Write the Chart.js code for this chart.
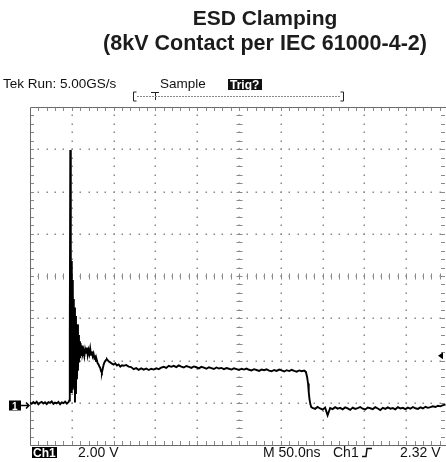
<!DOCTYPE html>
<html lang="en">
  <head>
    <meta charset="UTF-8" />
    <title>ESD Clamping</title>
    <style>
    body { margin: 0; background-color: #ffffff; }
    </style>
    <script src="https://cdn.jsdelivr.net/npm/chart.js@4.4.0/dist/chart.umd.min.js"></script>
  </head>
  <body>
    <canvas id="chart" width="446" height="462"></canvas>

    <script>
      // scope settings
      const voltsPerDiv = 2;
      const nsPerDiv = 50;
      const groundOffsetDiv = 0.955;   // ground marker height above bottom of screen
      const visibleNs = 497.6;          // right edge of screen is just cut off
      const triggerLevel = 2.32;

      // Ch1 trace, time in ns from left edge of the screen
      const timeNs = [
        0, 2, 4, 6, 8, 10, 12, 14, 16, 18, 20, 22, 24, 26, 28, 30, 32, 34, 36, 38, 40, 42, 44, 46,
        47.0, 47.6, 48.2, 48.6, 49.0, 49.4, 49.8, 50.2, 50.6, 51.0, 51.4, 51.8, 52.2, 52.6, 53.2, 53.8,
        54.4, 55.0, 55.6, 56.2, 56.8, 57.4, 58.0, 58.6, 59.2, 59.8, 60.6, 61.4, 62.2, 63.0,
        64, 65, 66, 67, 68, 69, 70, 71, 72, 73, 74, 75, 76, 77, 78, 79, 80, 81, 82, 83, 84, 85, 86,
        87, 88, 89, 90, 91, 92, 94, 96, 98, 100, 102, 104, 106, 108, 110, 112, 115, 118, 121, 124,
        127, 130, 133, 136, 139, 142, 145, 148, 151, 154, 157, 160, 163, 166, 169,
        172, 175, 178, 181, 184, 187, 190, 193, 196, 199, 202, 205, 208, 211, 214, 217, 220, 223,
        226, 229, 232, 235, 238, 241, 244, 247, 250, 253, 256, 259, 262, 265, 268, 271, 274, 277,
        280, 283, 286, 289, 292, 295, 298, 301, 304, 307, 310, 313, 316, 319, 322, 325, 328, 330,
        331.5, 332.6, 333.4, 334.2, 335.2, 336.4,
        338, 341, 344, 347, 350, 353, 356, 359, 362, 365, 368, 371, 374, 377, 380, 383, 386, 389,
        392, 395, 398, 401, 404, 407, 410, 413, 416, 419, 422, 425, 428, 431, 434, 437, 440, 443,
        446, 449, 452, 455, 458, 461, 464, 467, 470, 473, 476, 479, 482, 485, 488, 491, 494, 497
      ];
      const voltage = [
        0.10, 0.04, 0.12, 0.06, 0.14, 0.02, 0.09, 0.13, 0.05, 0.11, 0.03, 0.12, 0.08, 0.15, 0.04, 0.10,
        0.06, 0.13, 0.02, 0.11, 0.07, 0.14, 0.05, 0.12,
        0.20, 3.50, 12.05, 2.80, 7.30, 0.60, 6.80, 1.00, 5.90, 0.70, 5.60, 1.20, 5.00, 0.80, 4.60, 0.10,
        4.20, 0.50, 3.60, 1.20, 3.80, 1.60, 3.30, 2.00, 3.00, 2.20, 2.90, 2.30, 2.80, 2.40,
        2.55, 2.30, 2.62, 2.45, 2.70, 2.35, 2.58, 2.40, 2.66, 2.36, 2.52, 2.30, 2.42, 2.20, 2.26, 2.06,
        2.10, 1.95, 1.90, 1.80, 1.74, 1.58, 1.52,
        1.70, 1.88, 2.00, 2.06, 2.12, 2.15, 2.05, 2.00, 1.94, 1.90, 1.96, 1.85, 1.90, 1.80, 1.86, 1.84,
        1.88, 1.80, 1.78, 1.68,
        1.73, 1.65, 1.72, 1.66, 1.71, 1.64, 1.70, 1.66, 1.72, 1.68, 1.75, 1.79, 1.74, 1.84, 1.79,
        1.84, 1.78, 1.86, 1.80, 1.76, 1.83, 1.79, 1.74, 1.81, 1.77, 1.72, 1.79, 1.75, 1.70, 1.77, 1.73,
        1.69, 1.76, 1.71, 1.74, 1.68, 1.73, 1.70, 1.66, 1.72, 1.68, 1.64, 1.70, 1.66, 1.71, 1.65, 1.62,
        1.68, 1.64, 1.60, 1.66, 1.63, 1.67, 1.61, 1.58, 1.64, 1.60, 1.66, 1.62, 1.57, 1.63, 1.59, 1.65,
        1.60, 1.56, 1.62, 1.58, 1.61, 1.55,
        1.30, 1.00, 0.60, 0.30, 0.05, -0.12,
        -0.15, -0.20, -0.11, -0.18, -0.24, -0.14, -0.50, -0.16, -0.21, -0.12,
        -0.19, -0.15, -0.22, -0.13, -0.18, -0.25, -0.14, -0.20, -0.16, -0.11,
        -0.19, -0.23, -0.14, -0.17, -0.21, -0.12, -0.18, -0.26, -0.15, -0.20,
        -0.13, -0.19, -0.16, -0.22, -0.12, -0.18, -0.15, -0.21, -0.14, -0.19,
        -0.11, -0.17, -0.20, -0.13, -0.18, -0.10, -0.15, -0.12, -0.08, -0.11,
        -0.05, -0.08, -0.02, 0.00
      ];

      const titleLines = ['ESD Clamping', '(8kV Contact per IEC 61000-4-2)'];
      const headerLabels = ['Tek Run: 5.00GS/s', 'Sample', 'Trig?'];
      const footerLabels = ['Ch1', '2.00 V', 'M 50.0ns', 'Ch1', '2.32 V'];

      const yMin = -groundOffsetDiv * voltsPerDiv;
      const yMax = yMin + 8 * voltsPerDiv;

      const points = timeNs.map((t, i) => ({x: t, y: voltage[i]}));

      // scope graticule: dotted divisions, ticked centre cross and border
      const graticule = {
        id: 'graticule',
        beforeDatasetsDraw(chart) {
          const {ctx, chartArea: a, scales: {x, y}} = chart;
          ctx.save();
          ctx.fillStyle = '#8a8a8a';
          const xStep = nsPerDiv / 5;
          const yStep = voltsPerDiv / 5;

          // dotted vertical division lines
          for (let d = 1; d <= 9; d++) {
            const px = Math.round(x.getPixelForValue(d * nsPerDiv));
            for (let k = 1; k < 40; k++) {
              const py = Math.round(y.getPixelForValue(yMin + k * yStep));
              ctx.fillRect(px - 0.5, py - 0.5, 1.5, 1.5);
            }
          }
          // dotted horizontal division lines
          for (let d = 1; d <= 7; d++) {
            const py = Math.round(y.getPixelForValue(yMin + d * voltsPerDiv));
            for (let k = 1; k < 50; k++) {
              const px = Math.round(x.getPixelForValue(k * xStep));
              ctx.fillRect(px - 0.5, py - 0.5, 1.5, 1.5);
            }
          }

          ctx.strokeStyle = '#8a8a8a';
          ctx.lineWidth = 1;
          ctx.beginPath();
          // centre cross ticks
          const cx = Math.round(x.getPixelForValue(5 * nsPerDiv)) + 0.5;
          const cy = Math.round(y.getPixelForValue(yMin + 4 * voltsPerDiv)) + 0.5;
          for (let k = 1; k < 40; k++) {
            const py = Math.round(y.getPixelForValue(yMin + k * yStep)) + 0.5;
            ctx.moveTo(cx - 3, py); ctx.lineTo(cx + 3, py);
          }
          for (let k = 1; k < 50; k++) {
            const px = Math.round(x.getPixelForValue(k * xStep)) + 0.5;
            ctx.moveTo(px, cy - 3); ctx.lineTo(px, cy + 3);
          }
          // border ticks
          for (let k = 1; k < 50; k++) {
            const px = Math.round(x.getPixelForValue(k * xStep)) + 0.5;
            ctx.moveTo(px, a.top); ctx.lineTo(px, a.top + 4);
            ctx.moveTo(px, a.bottom); ctx.lineTo(px, a.bottom - 4);
          }
          for (let k = 1; k < 40; k++) {
            const py = Math.round(y.getPixelForValue(yMin + k * yStep)) + 0.5;
            ctx.moveTo(a.left, py); ctx.lineTo(a.left + 4, py);
            ctx.moveTo(a.right - 1, py); ctx.lineTo(a.right - 5, py);
          }
          ctx.stroke();

          // border
          ctx.strokeStyle = '#6a6a6a';
          ctx.beginPath();
          ctx.moveTo(a.left + 0.5, a.bottom + 0.5);
          ctx.lineTo(a.left + 0.5, a.top + 0.5);
          ctx.lineTo(a.right, a.top + 0.5);
          ctx.moveTo(a.left + 0.5, a.bottom + 0.5);
          ctx.lineTo(a.right, a.bottom + 0.5);
          ctx.stroke();
          ctx.restore();
        },

        afterDraw(chart) {
          const {ctx, chartArea: a, scales: {x, y}} = chart;
          ctx.save();

          // title
          ctx.fillStyle = '#1c1c1c';
          ctx.textAlign = 'center';
          ctx.font = 'bold 21px "Liberation Sans", Arial, sans-serif';
          ctx.fillText(titleLines[0], 265, 25);
          ctx.font = 'bold 21.5px "Liberation Sans", Arial, sans-serif';
          ctx.fillText(titleLines[1], 265, 50);

          // scope header
          ctx.textAlign = 'left';
          ctx.fillStyle = '#111';
          ctx.font = '13.5px "Liberation Sans", Arial, sans-serif';
          ctx.fillText(headerLabels[0], 3, 88);
          ctx.fillText(headerLabels[1], 160, 88);
          ctx.fillRect(228, 79, 34, 11);
          ctx.fillStyle = '#fff';
          ctx.font = 'bold 12px "Liberation Sans", Arial, sans-serif';
          ctx.fillText(headerLabels[2], 230, 89);

          // record bracket with trigger point
          ctx.strokeStyle = '#222';
          ctx.lineWidth = 1;
          ctx.beginPath();
          ctx.moveTo(136.5, 92); ctx.lineTo(133.5, 92); ctx.lineTo(133.5, 101); ctx.lineTo(136.5, 101);
          ctx.moveTo(340.5, 92); ctx.lineTo(343.5, 92); ctx.lineTo(343.5, 101); ctx.lineTo(340.5, 101);
          ctx.moveTo(151, 92.5); ctx.lineTo(159, 92.5);
          ctx.moveTo(155.5, 92); ctx.lineTo(155.5, 100);
          ctx.stroke();
          ctx.strokeStyle = '#888';
          ctx.setLineDash([2, 1]);
          ctx.beginPath();
          ctx.moveTo(137, 96.5); ctx.lineTo(340, 96.5);
          ctx.stroke();
          ctx.setLineDash([]);

          // ground marker "1 ->"
          const gy = Math.round(y.getPixelForValue(0)) + 0.5;
          ctx.fillStyle = '#000';
          ctx.fillRect(9, gy - 5, 12, 10);
          ctx.fillStyle = '#fff';
          ctx.font = 'bold 10px "Liberation Sans", Arial, sans-serif';
          ctx.fillText('1', 12, gy + 4);
          ctx.strokeStyle = '#000';
          ctx.lineWidth = 1.5;
          ctx.beginPath();
          ctx.moveTo(21, gy); ctx.lineTo(29, gy);
          ctx.moveTo(26, gy - 3); ctx.lineTo(29, gy); ctx.lineTo(26, gy + 3);
          ctx.stroke();

          // trigger level arrow on the right
          const ty = y.getPixelForValue(triggerLevel);
          ctx.fillStyle = '#000';
          ctx.beginPath();
          ctx.moveTo(438, ty); ctx.lineTo(443, ty - 3.5); ctx.lineTo(443, ty + 3.5);
          ctx.closePath();
          ctx.fill();

          // scope footer
          ctx.fillRect(32, 447, 25, 11);
          ctx.fillStyle = '#fff';
          ctx.font = 'bold 12px "Liberation Sans", Arial, sans-serif';
          ctx.fillText(footerLabels[0], 33, 457);
          ctx.fillStyle = '#111';
          ctx.font = '14px "Liberation Sans", Arial, sans-serif';
          ctx.fillText(footerLabels[1], 78, 457);
          ctx.fillText(footerLabels[2], 263, 457);
          ctx.fillText(footerLabels[3], 333, 457);
          ctx.fillText(footerLabels[4], 400, 457);
          // rising edge symbol
          ctx.strokeStyle = '#111';
          ctx.lineWidth = 1.5;
          ctx.beginPath();
          ctx.moveTo(362, 456.5); ctx.lineTo(366, 456.5); ctx.lineTo(367, 448.5); ctx.lineTo(372, 448.5);
          ctx.stroke();
          ctx.restore();
        }
      };

      const ctx = document.getElementById('chart').getContext('2d');
      const myChart = new Chart(ctx, {
        type: 'line',
        data: {
          datasets: [{
            label: 'Ch1',
            data: points,
            borderColor: '#000',
            borderWidth: 1.9,
            pointRadius: 0,
            tension: 0,
            fill: false
          }]
        },
        options: {
          responsive: false,
          animation: false,
          layout: { padding: { top: 107, left: 30, right: 0, bottom: 17 } },
          plugins: { legend: { display: false }, tooltip: { enabled: false } },
          scales: {
            x: { type: 'linear', min: 0, max: visibleNs, display: false },
            y: { type: 'linear', min: yMin, max: yMax, display: false }
          }
        },
        plugins: [graticule]
      });
    </script>
  </body>
</html>
